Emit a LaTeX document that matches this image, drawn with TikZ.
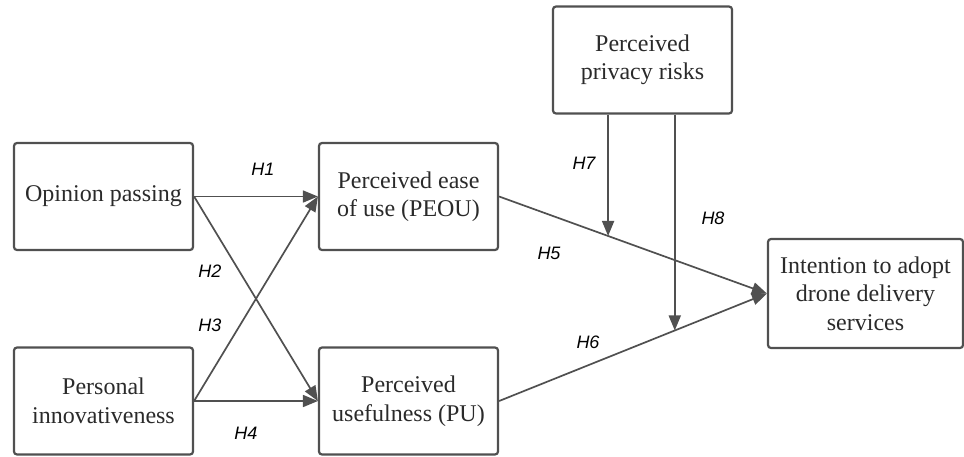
\documentclass[tikz,border=0pt]{standalone}
\usepackage{fontspec}
\setmainfont{Liberation Serif}
\newfontfamily\labfont{Liberation Sans}
\usetikzlibrary{arrows.meta,calc}
\definecolor{linegray}{HTML}{505050}
\definecolor{textgray}{HTML}{2a2a2a}
\begin{document}
\begin{tikzpicture}[x=1pt,y=-1pt,
  box/.style={draw=linegray, line width=2.2pt, rounded corners=3pt,
    minimum width=179pt, minimum height=107pt, align=center,
    text=textgray, font=\fontsize{24}{28.5}\selectfont, inner sep=2pt},
  arr/.style={draw=linegray, line width=1.7pt,
    -{Triangle[length=15pt,width=12pt]}},
  hlab/.style={font=\labfont\itshape\fontsize{18}{20}\selectfont, text=black}]
\useasboundingbox (0,0) rectangle (964,456);
\node[box] (op)   at (103.5,196.5) {Opinion passing};
\node[box] (pi)   at (103.5,401)   {Personal\\innovativeness};
\node[box] (peou) at (408.5,196.5) {Perceived ease\\of use (PEOU)};
\node[box] (pu)   at (408.5,401)   {Perceived\\usefulness (PU)};
\node[box] (priv) at (642.5,60)    {Perceived\\privacy risks};
\node[box, minimum width=195pt, minimum height=109pt] (int) at (865.5,293.5) {Intention to adopt\\drone delivery\\services};
\draw[arr] (op.east) -- (peou.west);
\draw[arr] (op.east) -- (pu.west);
\draw[arr] (pi.east) -- (peou.west);
\draw[arr] (pi.east) -- (pu.west);
\draw[arr] (peou.east) -- (int.west);
\draw[arr] (pu.east) -- (int.west);
\coordinate (m1) at ($(peou.east)!0.407!(int.west)$);
\coordinate (m2) at ($(pu.east)!0.656!(int.west)$);
\draw[arr] (priv.south -| m1) -- (m1);
\draw[arr] (priv.south -| m2) -- (m2);
\node[hlab] (h1) at (263,169) {H1};
\node[hlab] (h2) at (210,271) {H2};
\node[hlab] (h3) at (210,325) {H3};
\node[hlab] (h4) at (246,433) {H4};
\node[hlab] (h5) at (549,253) {H5};
\node[hlab] (h6) at (588,342) {H6};
\node[hlab] (h7) at (584,163) {H7};
\node[hlab] (h8) at (713,218) {H8};
\end{tikzpicture}
\end{document}
